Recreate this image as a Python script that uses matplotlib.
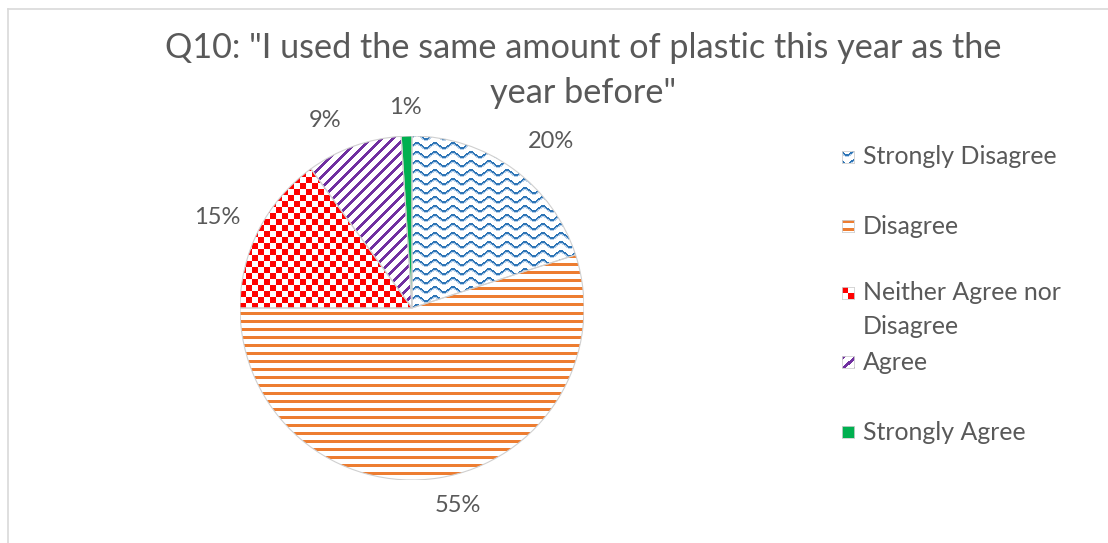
import numpy as np
import matplotlib
matplotlib.use("Agg")
import matplotlib.pyplot as plt
import matplotlib.colors as mcolors
from matplotlib.lines import Line2D
from matplotlib.patches import Wedge

# Survey responses
categories = ["Strongly Disagree", "Disagree", "Neither Agree nor\nDisagree", "Agree", "Strongly Agree"]
shares = [20, 55, 15, 9, 1]
colors = ["#2E75B6", "#ED7D31", "#FF0000", "#7030A0", "#00B050"]
fills = ["wave", "hstripe", "checker", "diag", "solid"]
title_lines = ['Q10: "I used the same amount of plastic this year as the', 'year before"']

W, H = 1108, 543
plt.rcParams['font.family'] = ['Lato', 'DejaVu Sans']
text_color = '#595959'
fig = plt.figure(figsize=(W / 100, H / 100), dpi=100)
fig.patch.set_facecolor('white')

# light chart-area frame
frame_col = '#D9D9D9'
fig.add_artist(Line2D([8 / W, 8 / W], [0, 1 - 9 / H], color=frame_col, lw=1.2))
fig.add_artist(Line2D([8 / W, 1], [1 - 9 / H, 1 - 9 / H], color=frame_col, lw=1.2))


def pattern(kind, color, size):
    yy, xx = np.mgrid[0:size, 0:size]
    img = np.ones((size, size, 3))
    rgb = mcolors.to_rgb(color)
    if kind == 'wave':
        phase = (yy - 2.5 * np.sin(2 * np.pi * xx / 18)) % 9
        img[(phase >= 2) & (phase < 3.2)] = mcolors.to_rgb('#B7D0EA')
        img[phase < 2] = rgb
    elif kind == 'hstripe':
        img[yy % 8 < 3] = rgb
    elif kind == 'checker':
        img[((xx // 6) + (yy // 6)) % 2 == 0] = rgb
    elif kind == 'diag':
        img[(xx + yy) % 11 < 4] = rgb
    else:
        img[:] = rgb
    return img


cx, cy, r = 412, 308, 172
ax = fig.add_axes([(cx - r) / W, (H - cy - r) / H, 2 * r / W, 2 * r / H])
wedges, _, autotexts = ax.pie(
    shares, startangle=90, counterclock=False, radius=1, colors=colors,
    autopct=lambda p: f"{p:.0f}%", pctdistance=1.2,
    wedgeprops=dict(edgecolor='none', linewidth=0),
    textprops=dict(color=text_color, fontsize=17))

npx = 2 * r
for w, kind, col in zip(wedges, fills, colors):
    w.set_facecolor('none')
    im = ax.imshow(pattern(kind, col, npx), extent=[-1, 1, -1, 1], origin='upper',
                   interpolation='nearest', zorder=2)
    im.set_clip_path(w)
    # outline on top
    ax.add_patch(Wedge(w.center, w.r, w.theta1, w.theta2, facecolor='none',
                       edgecolor='#D0D0D0', linewidth=0.8, zorder=3))

# label placements (angle in degrees, radial distance)
label_place = [(50, 1.26), (-77, 1.18), (155, 1.25), (115, 1.20), (92, 1.165)]
for t, (ang, dist) in zip(autotexts, label_place):
    a = np.deg2rad(ang)
    t.set_position((dist * np.cos(a), dist * np.sin(a)))
    t.set_ha('center')
    t.set_va('center')
    t.set_clip_on(False)

ax.set_xlim(-1, 1)
ax.set_ylim(-1, 1)
ax.set_aspect('equal')
ax.axis('off')

# title
fig.text(583 / W, 1 - 48 / H, title_lines[0], ha='center', va='center',
         fontsize=24.7, color=text_color)
fig.text(583 / W, 1 - 93 / H, title_lines[1], ha='center', va='center',
         fontsize=24.7, color=text_color)

# legend
leg_y = [157, 226, 293, 362, 432]
mk = 12
for lab, kind, col, y in zip(categories, fills, colors, leg_y):
    lax = fig.add_axes([842 / W, (H - y - mk / 2) / H, mk / W, mk / H])
    lax.imshow(pattern(kind, col, mk), origin='upper', interpolation='nearest',
               extent=[0, 1, 0, 1])
    lax.set_xticks([])
    lax.set_yticks([])
    for s in lax.spines.values():
        s.set_color('#D0D0D0')
        s.set_linewidth(0.6)
    for k, line in enumerate(lab.split('\n')):
        fig.text(863 / W, 1 - (y + 34 * k) / H, line, ha='left', va='center',
                 fontsize=17.9, color=text_color)

fig.savefig('out.png', dpi=100)
